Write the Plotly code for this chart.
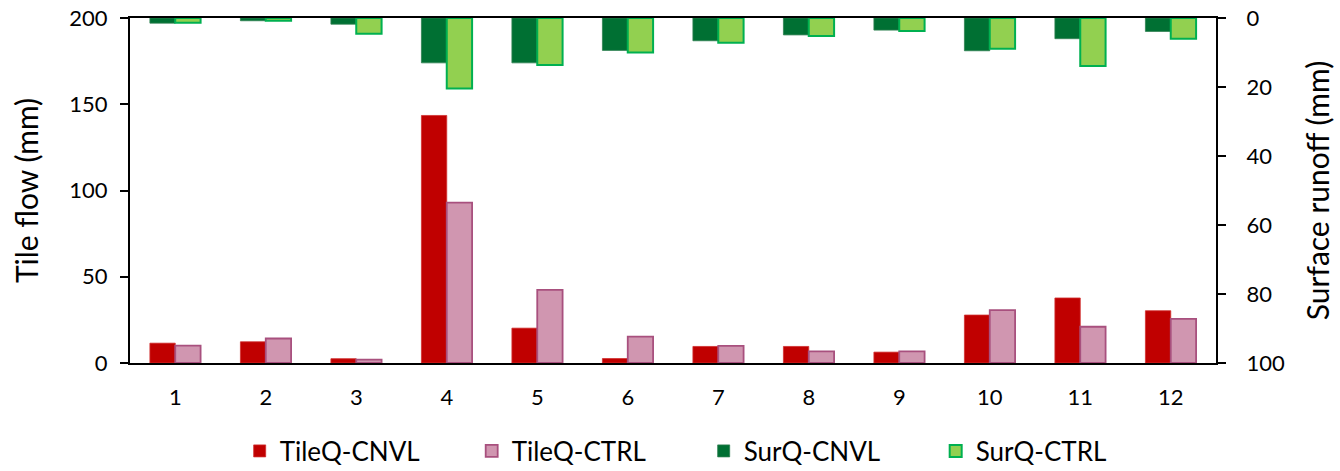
import plotly.graph_objects as go

# Monthly water balance components
months = [1, 2, 3, 4, 5, 6, 7, 8, 9, 10, 11, 12]
month_labels = ["1", "2", "3", "4", "5", "6", "7", "8", "9", "10", "11", "12"]

tile_cnvl = [11.5, 12.3, 2.5, 143.5, 20.2, 2.6, 9.6, 9.6, 6.3, 27.8, 37.7, 30.3]
tile_ctrl = [10.1, 14.2, 1.9, 93.0, 42.4, 15.3, 9.9, 6.7, 6.7, 30.7, 21.0, 25.6]
surq_cnvl = [1.5, 0.8, 1.8, 13.0, 13.0, 9.4, 6.6, 4.9, 3.5, 9.5, 6.0, 3.9]
surq_ctrl = [1.4, 0.8, 4.6, 20.4, 13.6, 10.0, 7.2, 5.2, 3.8, 8.9, 13.9, 6.0]

FONT = "Lato"
BAR_W = 0.28

fig = go.Figure()

fig.add_trace(go.Bar(
    x=months, y=tile_cnvl, name="TileQ-CNVL", yaxis="y",
    offset=-BAR_W, width=BAR_W,
    marker=dict(color="#C00000", line=dict(color="#D03030", width=0.8)),
))
fig.add_trace(go.Bar(
    x=months, y=tile_ctrl, name="TileQ-CTRL", yaxis="y",
    offset=0, width=BAR_W,
    marker=dict(color="#D096B0", line=dict(color="#A8507E", width=1.8)),
))
fig.add_trace(go.Bar(
    x=months, y=surq_cnvl, name="SurQ-CNVL", yaxis="y2",
    offset=-BAR_W, width=BAR_W,
    marker=dict(color="#007033", line=dict(color="#2E8050", width=0.8)),
))
fig.add_trace(go.Bar(
    x=months, y=surq_ctrl, name="SurQ-CTRL", yaxis="y2",
    offset=0, width=BAR_W,
    marker=dict(color="#92D050", line=dict(color="#00B050", width=2)),
))

fig.update_layout(
    width=1340, height=471,
    margin=dict(l=130, r=124, t=18, b=108, autoexpand=False),
    paper_bgcolor="white", plot_bgcolor="white",
    font=dict(family=FONT, size=22, color="#000000"),
    showlegend=True,
    legend=dict(
        orientation="h", x=0.101, xanchor="left", y=-0.255, yanchor="middle",
        font=dict(family=FONT, size=26, color="#000000"),
        entrywidth=187, entrywidthmode="pixels",
        traceorder="normal", bgcolor="rgba(0,0,0,0)",
    ),
    xaxis=dict(
        range=[0.5, 12.5], tickmode="array", tickvals=months, ticktext=month_labels,
        showline=True, linecolor="black", linewidth=2, mirror=True,
        ticks="", showgrid=False, zeroline=False, ticklabelstandoff=14,
        tickfont=dict(family=FONT, size=22),
    ),
    yaxis=dict(
        range=[0, 200], tickvals=[0, 50, 100, 150, 200],
        showline=True, linecolor="black", linewidth=2,
        ticks="outside", ticklen=8, tickwidth=2, tickcolor="black",
        showgrid=False, zeroline=False, ticklabelstandoff=8,
        title=dict(text="Tile flow (mm)", font=dict(family=FONT, size=30), standoff=22),
        tickfont=dict(family=FONT, size=22),
    ),
    yaxis2=dict(
        range=[100, 0], tickvals=[0, 20, 40, 60, 80, 100],
        overlaying="y", side="right",
        showline=True, linecolor="black", linewidth=2,
        ticks="outside", ticklen=8, tickwidth=2, tickcolor="black",
        showgrid=False, zeroline=False, ticklabelstandoff=16,
        title=dict(text="Surface runoff (mm)", font=dict(family=FONT, size=30), standoff=24),
        tickfont=dict(family=FONT, size=22),
    ),
)

fig.write_html("out.html")
